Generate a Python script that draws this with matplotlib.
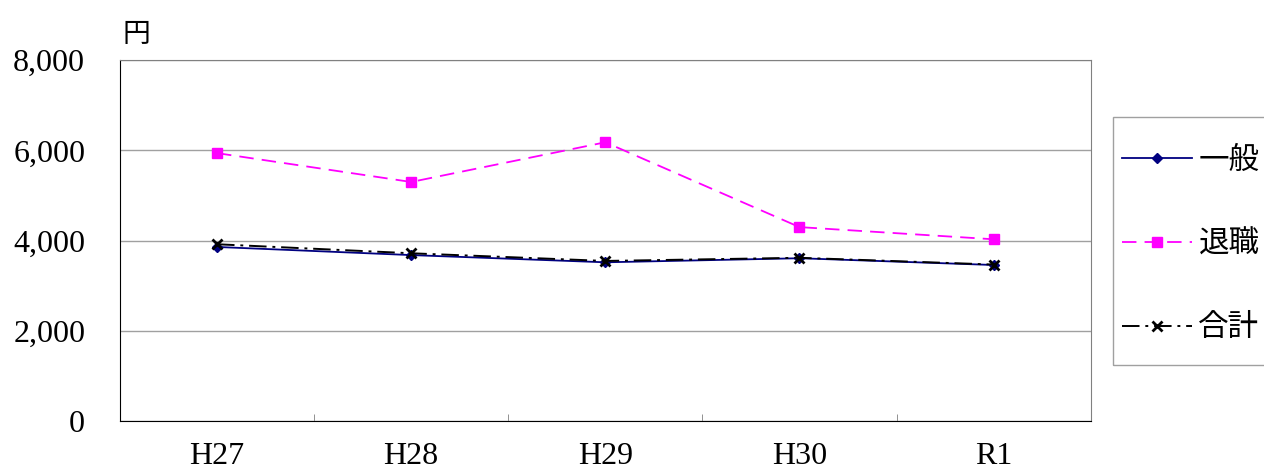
import matplotlib.pyplot as plt
from matplotlib.patches import Rectangle
from matplotlib.ticker import FuncFormatter

years = ['H27', 'H28', 'H29', 'H30', 'R1']
ippan = [3860, 3680, 3520, 3610, 3460]
taishoku = [5940, 5300, 6180, 4300, 4030]
goukei = [3920, 3720, 3550, 3620, 3470]

plt.rcParams['font.family'] = ['Liberation Serif', 'Noto Sans CJK JP']

fig = plt.figure(figsize=(12.64, 4.70), dpi=100)
ax = fig.add_axes([0.0949, 0.104, 0.768, 0.768])

x = range(len(years))
ax.plot(x, ippan, color='#000080', linestyle='-', linewidth=1.3,
        marker='D', markersize=5, label='一般')
ax.plot(x, taishoku, color='#ff00ff', linestyle=(0, (8, 4.5)), linewidth=1.3,
        marker='s', markersize=7, label='退職')
ax.plot(x, goukei, color='black', linestyle=(0, (9, 3, 1.5, 3)), linewidth=1.4,
        marker='x', markersize=7, markeredgewidth=2, label='合計')

ax.set_xlim(-0.5, len(years) - 0.5)
ax.set_ylim(0, 8000)
ax.set_yticks([0, 2000, 4000, 6000, 8000])
ax.yaxis.set_major_formatter(FuncFormatter(lambda v, p: f'{int(v):,}'))
ax.grid(axis='y', color='#a0a0a0', linewidth=1)

ax.set_xticks(list(x))
ax.set_xticklabels(years)
ax.set_xticks([i + 0.5 for i in range(len(years) - 1)], minor=True)
ax.tick_params(axis='x', which='major', length=0, pad=15, labelsize=23)
ax.tick_params(axis='x', which='minor', direction='in', length=5, color='#808080')
ax.tick_params(axis='y', length=0, pad=25, labelsize=23)

for side in ['left', 'bottom']:
    ax.spines[side].set_color('black')
for side in ['top', 'right']:
    ax.spines[side].set_color('#808080')

fig.text(0.097, 0.91, '円', fontsize=20, family=['Noto Sans CJK JP'])

# legend box runs off the right edge, as in the original
fig.patches.append(Rectangle((0.8805, 0.2234), 0.2, 0.5276, transform=fig.transFigure,
                             fill=False, edgecolor='#a0a0a0', linewidth=1))
leg = fig.legend(loc='upper left', bbox_to_anchor=(0.8877, 0.692), fontsize=22,
                 frameon=False, handlelength=2.3, labelspacing=1.73,
                 borderpad=0, handletextpad=0.2, borderaxespad=0)
for t in leg.get_texts():
    t.set_family(['Noto Sans CJK JP'])

fig.savefig('out.png', dpi=100)
